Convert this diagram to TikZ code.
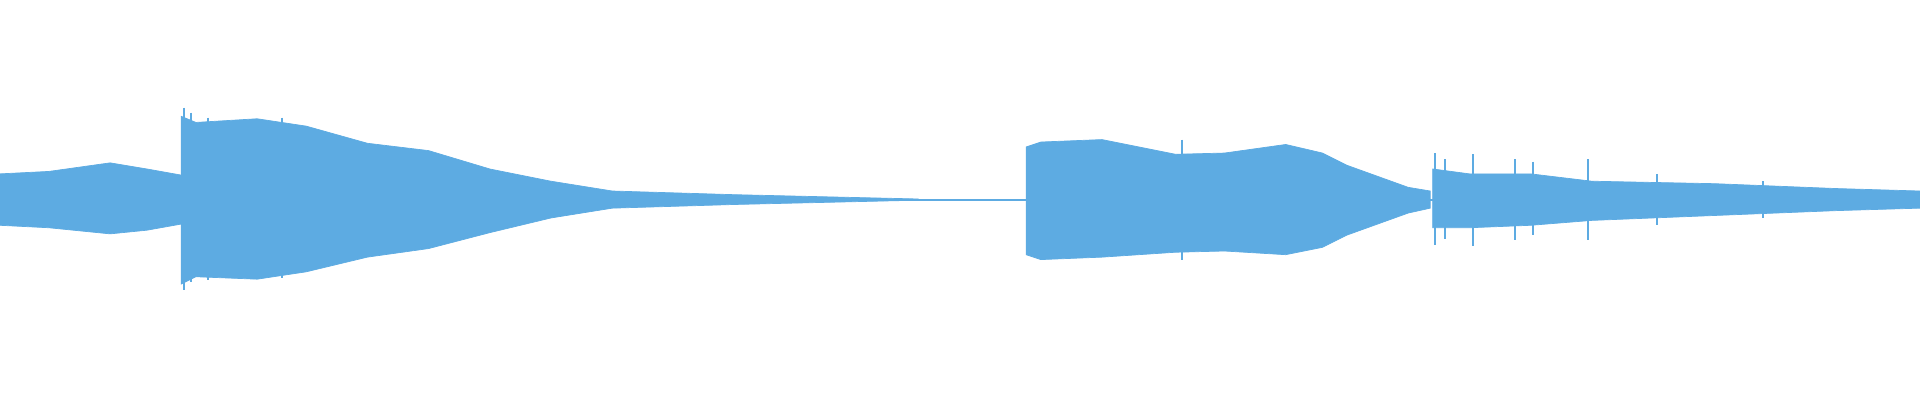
\documentclass[tikz,border=0pt]{standalone}
\usepackage{tikz}
\definecolor{wave}{RGB}{93,171,226}
\tikzset{
  envelope/.style={fill=wave, draw=wave, line width=0.2pt},
  spike/.style={draw=wave, line width=0.5pt}
}
\begin{document}
\begin{tikzpicture}[x=0.012245cm, y=-0.012232cm]
  \useasboundingbox (0,0) rectangle (1568,327);
  % centre line
  \draw[wave, line width=0.6pt] (0,163) -- (1568,163);
  % first quiet part
  \fill[envelope] (0,142) -- (40,140) -- (90,133) -- (120,138) -- (148,143)
    -- (148,183) -- (120,188) -- (90,191) -- (40,186) -- (0,184) -- cycle;
  % loud attack and long decay
  \fill[envelope] (148,95) -- (160,100) -- (210,97) -- (250,103) -- (300,117)
    -- (350,123) -- (400,138) -- (450,148) -- (500,156) -- (600,159) -- (750,162.5)
    -- (750,163.5) -- (600,167) -- (500,170) -- (450,178) -- (400,190)
    -- (350,203) -- (300,210) -- (250,222) -- (210,228) -- (160,226) -- (148,232) -- cycle;
  % second block
  \fill[envelope] (838,120) -- (850,116) -- (900,114) -- (960,126) -- (1000,125)
    -- (1050,118) -- (1080,125) -- (1100,135) -- (1150,153) -- (1168,156)
    -- (1168,170) -- (1150,174) -- (1100,192) -- (1080,202) -- (1050,208)
    -- (1000,205) -- (960,206) -- (900,210) -- (850,212) -- (838,208) -- cycle;
  % last part
  \fill[envelope] (1170,138) -- (1200,142) -- (1250,142) -- (1300,148) -- (1400,150)
    -- (1500,154) -- (1568,156) -- (1568,170) -- (1500,172) -- (1400,176)
    -- (1300,180) -- (1250,184) -- (1200,186) -- (1170,186) -- cycle;
  % spikes
  \foreach \x/\t/\b in {150/88/237, 156/92/230, 170/96/229, 230/96/227,
      965/114/212, 1172/125/200, 1203/126/201, 1237/130/196, 1297/130/196,
      1252/132/192, 1353/142/184, 1440/148/178, 1180/130/195} {
    \draw[spike] (\x,\t) -- (\x,\b);
  }
\end{tikzpicture}
\end{document}
